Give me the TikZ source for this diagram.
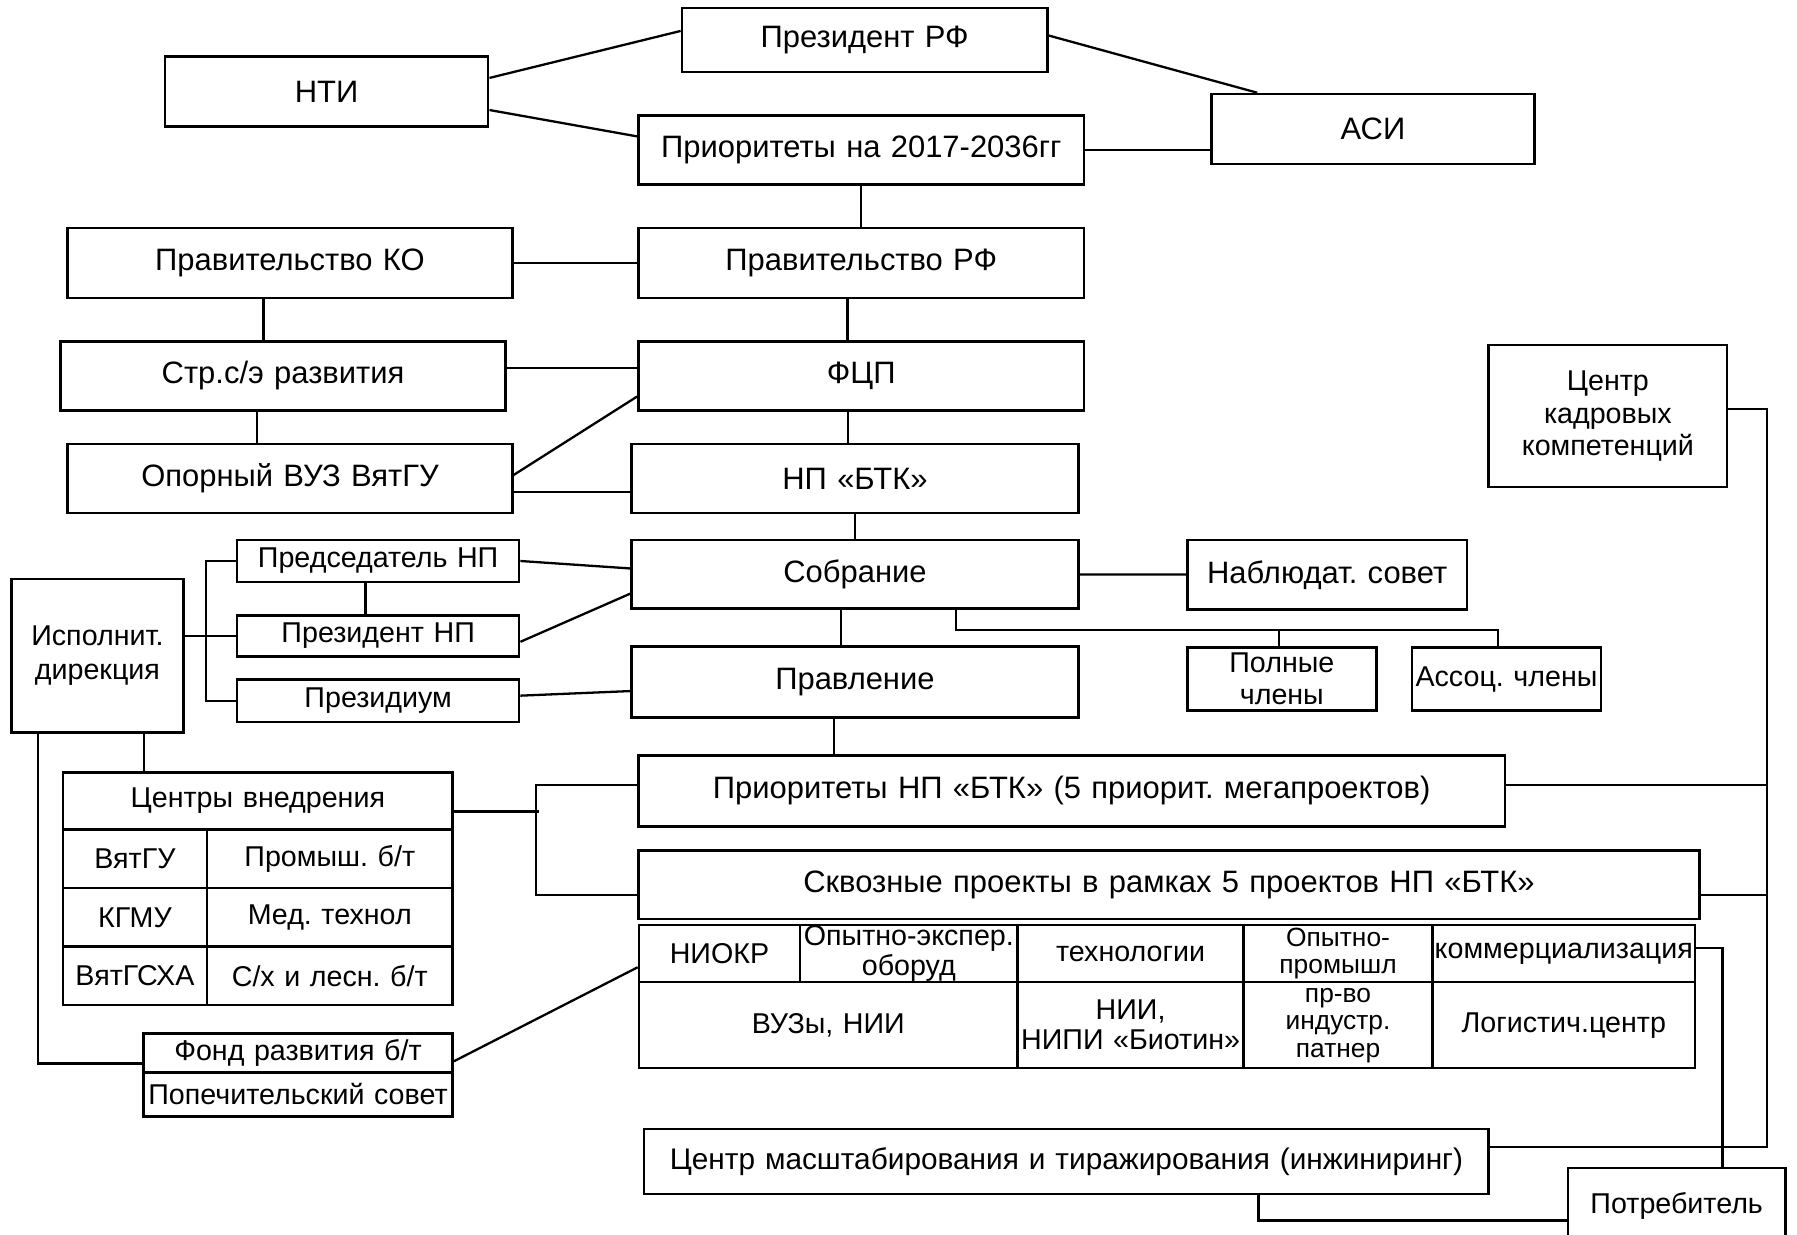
\documentclass[tikz,border=0pt]{standalone}
\usepackage{fontspec}
\setmainfont{Liberation Sans}
\usetikzlibrary{calc}
\frenchspacing

\begin{document}
\begin{tikzpicture}[x=1pt,y=-1pt,
  blk/.style={draw,line width=2.2pt,inner sep=0pt,align=center,font=\fontsize{27}{30}\selectfont},
  sblk/.style={blk,font=\fontsize{25}{28}\selectfont},
  tcell/.style={blk,font=\fontsize{25}{26}\selectfont},
  sz/.style 2 args={minimum width=#1pt,text width=#1pt,minimum height=#2pt},
  ln/.style={line width=2pt}]
\useasboundingbox (0,0) rectangle (1568,1077);
\fill[white] (0,0) rectangle (1568,1077);
\node[blk,sz={319}{56}] (prezrf) at (754.5,35) {Президент РФ};
\node[blk,sz={282}{61}] (nti) at (285,80) {НТИ};
\node[blk,sz={282}{61}] (asi) at (1198,112.5) {АСИ};
\node[blk,sz={389}{60}] (prior) at (751.5,131) {Приоритеты на 2017-2036гг};
\node[blk,sz={388}{61}] (pravko) at (253,229.5) {Правительство КО};
\node[blk,sz={389}{61}] (pravrf) at (751.5,229.5) {Правительство РФ};
\node[blk,sz={388}{60}] (strat) at (247,328) {Стр.с/э развития};
\node[blk,sz={389}{60}] (fcp) at (751.5,328) {ФЦП};
\node[blk,sz={388}{60}] (opvuz) at (253,417.5) {Опорный ВУЗ ВятГУ};
\node[blk,sz={390}{60}] (npbtk) at (746,417.5) {НП «БТК»};
\node[sblk,sz={246}{37}] (pred) at (330,489.5) {Председатель НП};
\node[blk,sz={390}{60}] (sobr) at (746,501) {Собрание};
\node[blk,sz={244}{61}] (nabl) at (1158,501.5) {Наблюдат. совет};
\node[sblk,sz={246}{36}] (preznp) at (330,555) {Президент НП};
\node[sblk,sz={246}{37}] (prezid) at (330,611.5) {Президиум};
\node[blk,sz={390}{62}] (pravl) at (746,595) {Правление};
\node[sblk,sz={150}{134},font=\fontsize{25}{30}\selectfont] (isp) at (85,572) {Исполнит.\\дирекция};
\node[sblk,sz={165}{55}] (poln) at (1118.5,592.5) {Полные\\члены};
\node[sblk,sz={165}{55}] (assoc) at (1314.5,592.5) {Ассоц. члены};
\node[sblk,sz={208}{124}] (ckk) at (1403,363) {Центр\\кадровых\\компетенций};
\node[sblk,sz={340}{50}] (cvhead) at (225,699) {Центры внедрения};
\node[sblk,sz={125.5}{51}] (cv11) at (117.75,749.5) {ВятГУ};
\node[sblk,sz={214.5}{51}] (cv12) at (287.75,749.5) {Промыш. б/т};
\node[sblk,sz={125.5}{51}] (cv21) at (117.75,800.5) {КГМУ};
\node[sblk,sz={214.5}{51}] (cv22) at (287.75,800.5) {Мед. технол};
\node[sblk,sz={125.5}{51}] (cv31) at (117.75,851.5) {ВятГСХА};
\node[sblk,sz={214.5}{51}] (cv32) at (287.75,851.5) {С/х и лесн. б/т};
\node[blk,sz={756}{62}] (prnp) at (935,690) {Приоритеты НП «БТК» (5 приорит. мегапроектов)};
\node[blk,sz={926}{60}] (skv) at (1020,772) {Сквозные проекты в рамках 5 проектов НП «БТК»};
\node[tcell,sz={140.5}{50}] (t1) at (627.75,832) {НИОКР};
\node[tcell,sz={190}{50}] (t2) at (793,832) {Опытно-экспер.\\оборуд};
\node[tcell,sz={197}{50}] (t3) at (986.5,832) {технологии};
\node[tcell,sz={165}{50},font=\fontsize{23}{24}\selectfont] (t4) at (1167.5,832) {Опытно-\\промышл};
\node[tcell,sz={229}{50}] (t5) at (1364.5,832) {коммерциализация};
\node[tcell,sz={330.5}{75}] (b1) at (722.75,894.5) {ВУЗы, НИИ};
\node[tcell,sz={197}{75}] (b2) at (986.5,894.5) {НИИ,\\НИПИ «Биотин»};
\node[tcell,sz={165}{75},font=\fontsize{23}{24}\selectfont] (b3) at (1167.5,894.5) {пр-во\\индустр.\\патнер};
\node[tcell,sz={229}{75}] (b4) at (1364.5,894.5) {Логистич.центр};
\node[sblk,sz={270}{34}] (fond) at (260,919) {Фонд развития б/т};
\node[sblk,sz={270}{38}] (popech) at (260,955) {Попечительский совет};
\node[blk,sz={737}{57},font=\fontsize{26}{30}\selectfont] (cms) at (930.5,1013.5) {Центр масштабирования и тиражирования (инжиниринг)};
\node[sblk,sz={190}{66}] (potr) at (1463,1052) {Потребитель};
\coordinate (bt) at (1542,357);
\coordinate (bb) at (1542,1001);
\draw[ln] ($(nti.east)+(0,-12)$) -- ($(prezrf.west)+(0,-8)$);
\draw[ln] ($(nti.east)+(0,16)$) -- ($(prior.west)+(0,-12)$);
\draw[ln] ($(prezrf.east)+(0,-4)$) -- ($(asi.north)+(-101,0)$);
\draw[ln] (prior.east) -- (prior.east -| asi.west);
\draw[ln] (prior.south) -- (pravrf.north);
\draw[ln] (pravko) -- (pravrf);
\draw[ln] ($(pravko.south)+(-23,0)$) -- ($(strat.north)+(-17,0)$);
\draw[ln] ($(pravrf.south)+(-12,0)$) -- ($(fcp.north)+(-12,0)$);
\draw[ln] ($(strat.east)+(0,-7)$) -- ($(fcp.west)+(0,-7)$);
\draw[ln] ($(strat.south)+(-23,0)$) -- ($(opvuz.north)+(-29,0)$);
\draw[ln] ($(opvuz.east)+(0,-3)$) -- ($(fcp.west)+(0,18)$);
\draw[ln] ($(opvuz.east)+(0,11.5)$) -- ($(npbtk.west)+(0,11.5)$);
\draw[ln] ($(fcp.south)+(-11.5,0)$) -- ($(npbtk.north)+(-6,0)$);
\draw[ln] (npbtk.south) -- (sobr.north);
\draw[ln] (pred.east) -- ($(sobr.west)+(0,-5)$);
\draw[ln] ($(preznp.east)+(0,5)$) -- ($(sobr.west)+(0,17)$);
\draw[ln] ($(prezid.east)+(0,-4.5)$) -- ($(pravl.west)+(0,8)$);
\draw[ln] (pred.south) ++(-11,0) -- ($(preznp.north)+(-11,0)$);
\draw[ln] (sobr) -- (nabl);
\draw[ln] ($(sobr.south)+(-12,0)$) -- ($(pravl.north)+(-12,0)$);
\draw[ln] ($(sobr.south)+(88,0)$) |- ($(assoc.north)+(-7.5,-14)$) -- ($(assoc.north)+(-7.5,0)$);
\draw[ln] ($(poln.north)+(-2.5,0)$) -- ($(poln.north)+(-2.5,-14)$);
\draw[ln] (isp.east |- preznp.west) -- (preznp.west);
\draw[ln] (pred.west) -- ++(-26,0) |- (prezid.west);
\draw[ln] ($(isp.south)+(40.5,0)$) -- ($(cvhead.north)+(-99.5,0)$);
\draw[ln] ($(isp.south)+(-52,0)$) |- ($(fond.west)+(0,9)$);
\draw[ln] ($(cvhead.east)+(0,9)$) -- ($(cvhead.east)+(74,9)$);
\draw[ln] ($(prnp.west)+(0,-5)$) -- ++(-88,0) |- ($(skv.west)+(0,9)$);
\draw[ln] ($(fond.east)+(0,7)$) -- ($(t1.west)+(0,12)$);
\draw[ln] ($(pravl.south)+(-18,0)$) -- ($(prnp.north)+(-207,0)$);
\draw[ln] ($(ckk.east)+(0,-6)$) -- (bt) -- (bb) -- (bb -| cms.east);
\draw[ln] ($(prnp.east)+(0,-5)$) -- ($(prnp.east -| bt)+(0,-5)$);
\draw[ln] ($(skv.east)+(0,9)$) -- ($(skv.east -| bt)+(0,9)$);
\draw[ln] ($(t5.east)+(0,-5)$) -| ($(potr.north)+(40,0)$);
\draw[ln] ($(cms.south)+(167.5,0)$) |- ($(potr.west)+(0,13)$);
\end{tikzpicture}
\end{document}
